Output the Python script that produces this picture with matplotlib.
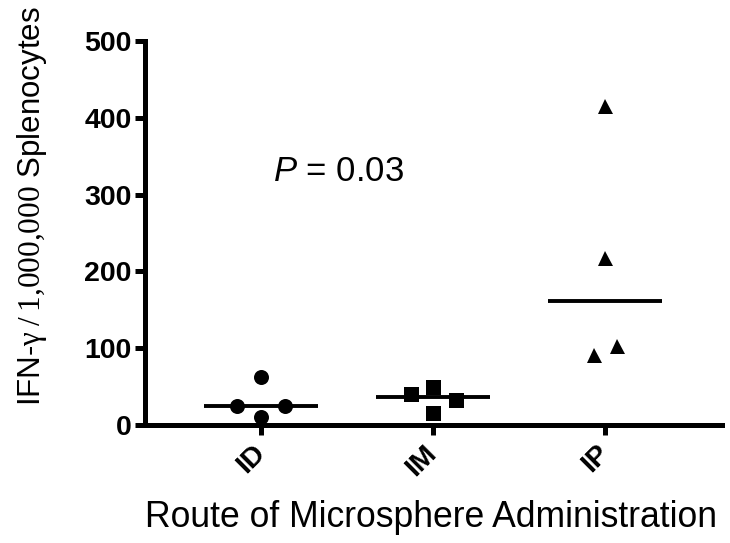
import matplotlib
matplotlib.use("Agg")
import matplotlib.pyplot as plt
import numpy as np

plt.rcParams['font.family'] = ['Liberation Sans', 'DejaVu Sans']
plt.rcParams['mathtext.fontset'] = 'custom'
plt.rcParams['mathtext.rm'] = 'Liberation Serif'
plt.rcParams['mathtext.it'] = 'Liberation Sans:italic'

categories = ["ID", "IM", "IP"]
id_values = [62, 25, 25, 10]
im_values = [41, 49.5, 33, 16]
ip_values = [416, 218, 91, 103.5]
medians = [25, 37, 161]
y_ticks = [0, 100, 200, 300, 400, 500]

# horizontal jitter (layout only)
id_offsets = [0.0, -0.14, 0.14, 0.0]
im_offsets = [-0.13, 0.0, 0.135, 0.0]
ip_offsets = [0.0, 0.0, -0.063, 0.067]

fig = plt.figure(figsize=(7.3, 5.43), dpi=100)
ax = fig.add_axes([145/730, 1-425/543, (722-145)/730, (425-41)/543])

groups = [(id_values, id_offsets, 'o', 10.8),
          (im_values, im_offsets, 's', 10.8),
          (ip_values, ip_offsets, '^', 10.8)]
for i, (vals, offs, mk, ms) in enumerate(groups):
    xs = [i + 1 + o for o in offs]
    ax.plot(xs, vals, linestyle='none', marker=mk, markersize=ms,
            color='black', markeredgewidth=0, zorder=3)
    ax.plot([i + 1 - 0.333, i + 1 + 0.333], [medians[i], medians[i]],
            color='black', linewidth=2.8, solid_capstyle='butt', zorder=2)

ax.set_xlim(0.326, 3.68)
ax.set_ylim(0, 500)
ax.set_yticks(y_ticks)
ax.set_yticklabels([str(t) for t in y_ticks], fontsize=20.5, fontweight='bold')
ax.set_xticks([1, 2, 3])
ax.set_xticklabels(categories, fontsize=20.5, fontweight='bold', rotation=45,
                   ha='right', va='center', rotation_mode='anchor')

for s in ['top', 'right']:
    ax.spines[s].set_visible(False)
for s in ['left', 'bottom']:
    ax.spines[s].set_linewidth(3.6)
    ax.spines[s].set_capstyle('projecting')
ax.tick_params(axis='y', length=7.5, width=3.6, pad=2)
ax.tick_params(axis='x', length=7.5, width=3.6, pad=10)

ax.text(1.07, 318, r"$P$ = 0.03", fontsize=25, ha='left', va='baseline')

ax.set_xlabel("Route of Microsphere Administration", fontsize=25.6)
ax.xaxis.set_label_coords(0.495, -0.195)
ax.set_ylabel(r"IFN-$\mathrm{\gamma\:/\:1{,}000{,}000}$ Splenocytes", fontsize=22.5)
ax.yaxis.set_label_coords(-0.166, 0.57)

fig.savefig("out.png", dpi=100)
